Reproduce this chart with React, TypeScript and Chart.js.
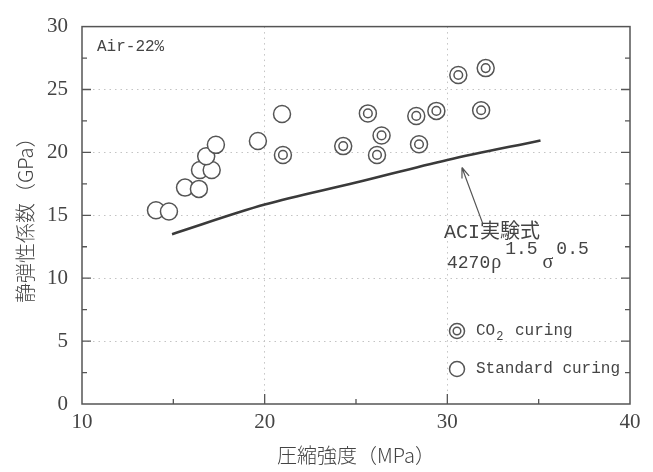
import React, { useEffect, useRef } from "react";
import { Chart, registerables } from "chart.js";
Chart.register(...registerables);

// Standard curing (open circles)
const standardX = [14.05, 14.76, 15.64, 16.4, 16.46, 17.1, 16.8, 17.33, 19.63, 20.95];
const standardY = [15.4, 15.3, 17.2, 17.1, 18.6, 18.6, 19.7, 20.6, 20.9, 23.05];
// CO2 curing (double circles)
const co2X = [21.0, 24.3, 25.65, 26.4, 26.15, 28.3, 28.45, 29.4, 30.6, 32.1, 31.85];
const co2Y = [19.8, 20.5, 23.1, 21.35, 19.8, 22.9, 20.65, 23.3, 26.15, 26.7, 23.35];
// ACI equation curve
const aciX = [14.93, 20, 25, 30, 35.1];
const aciY = [13.5, 15.85, 17.6, 19.4, 20.95];

const xMin = 10, xMax = 40, xStep = 10;
const yMin = 0, yMax = 30, yStep = 5;

const MONO = '"Liberation Mono", "Noto Sans CJK JP", monospace';
const SERIF = '"Liberation Serif", serif';
const CJK = '"Noto Sans CJK JP", sans-serif';
const INK = "#444";

const toPts = (xs: number[], ys: number[]) => xs.map((x, i) => ({ x, y: ys[i] }));

const decorPlugin = {
  id: "decor",
  afterDatasetsDraw(chart: any) {
    const { ctx, chartArea: a, scales } = chart;
    const xs = scales.x, ys = scales.y;
    ctx.save();
    // frame
    ctx.strokeStyle = "#555";
    ctx.lineWidth = 1.5;
    ctx.strokeRect(a.left, a.top, a.right - a.left, a.bottom - a.top);
    // inward ticks
    ctx.lineWidth = 1.3;
    ctx.beginPath();
    for (let v = xMin + xStep / 2; v < xMax; v += xStep / 2) {
      const px = xs.getPixelForValue(v);
      const major = Math.abs(v % xStep) < 1e-6;
      ctx.moveTo(px, a.bottom);
      ctx.lineTo(px, a.bottom - (major ? 10 : 5));
    }
    for (let v = yMin + yStep / 2; v < yMax; v += yStep / 2) {
      const py = ys.getPixelForValue(v);
      const major = Math.abs(v % yStep) < 1e-6;
      const len = major ? 9 : 5;
      ctx.moveTo(a.left, py);
      ctx.lineTo(a.left + len, py);
      ctx.moveTo(a.right, py);
      ctx.lineTo(a.right - len, py);
    }
    ctx.stroke();

    ctx.fillStyle = INK;
    ctx.textBaseline = "middle";
    ctx.textAlign = "left";
    // Air-22%
    ctx.font = `16px ${MONO}`;
    ctx.fillText("Air-22%", 97, 47);

    // arrow
    const tipX = xs.getPixelForValue(30.8), tipY = ys.getPixelForValue(18.8);
    const tailX = xs.getPixelForValue(31.95), tailY = ys.getPixelForValue(14.3);
    ctx.strokeStyle = "#555";
    ctx.lineWidth = 1.2;
    ctx.beginPath();
    ctx.moveTo(tailX, tailY);
    ctx.lineTo(tipX, tipY);
    const ang = Math.atan2(tipY - tailY, tipX - tailX);
    const hl = 11, hw = 0.35;
    ctx.moveTo(tipX, tipY);
    ctx.lineTo(tipX - hl * Math.cos(ang - hw), tipY - hl * Math.sin(ang - hw));
    ctx.moveTo(tipX, tipY);
    ctx.lineTo(tipX - hl * Math.cos(ang + hw), tipY - hl * Math.sin(ang + hw));
    ctx.stroke();

    // ACI text
    ctx.font = `20px ${MONO}`;
    ctx.fillText("ACI実験式", 444, 233);
    // formula
    let fx = 447;
    const base = 263, sup = 249;
    const put = (t: string, y: number, gap = 0) => {
      ctx.fillText(t, fx, y);
      fx += ctx.measureText(t).width + gap;
    };
    ctx.font = `18px ${MONO}`;
    put("4270", base, 1);
    ctx.font = `20px ${SERIF}`;
    put("ρ", base, 4);
    ctx.font = `18px ${MONO}`;
    put("1.5", sup, 5);
    ctx.font = `20px ${SERIF}`;
    put("σ", base, 3);
    ctx.font = `18px ${MONO}`;
    put("0.5", sup, 0);

    // legend
    const drawCircle = (cx: number, cy: number, r: number) => {
      ctx.beginPath();
      ctx.arc(cx, cy, r, 0, Math.PI * 2);
      ctx.stroke();
    };
    ctx.strokeStyle = "#555";
    ctx.lineWidth = 1.5;
    drawCircle(457, 331, 7.5);
    drawCircle(457, 331, 3.8);
    drawCircle(457, 369, 7.5);
    ctx.font = `16px ${MONO}`;
    let lx = 476;
    ctx.fillText("CO", lx, 331);
    lx += ctx.measureText("CO").width + 1;
    ctx.font = `12px ${MONO}`;
    ctx.fillText("2", lx, 337);
    lx += ctx.measureText("2").width + 2;
    ctx.font = `16px ${MONO}`;
    ctx.fillText(" curing", lx, 331);
    ctx.fillText("Standard curing", 476, 369);
    ctx.restore();
  },
};

export default function App() {
  const ref = useRef<HTMLCanvasElement>(null);
  useEffect(() => {
    document.body.style.margin = "0";
    const canvas = ref.current!;
    const gridColor = (c: any) => {
      const v = c.tick ? c.tick.value : null;
      return v !== null && c.scale && v > c.scale.min && v < c.scale.max ? "#c4c4c4" : "rgba(0,0,0,0)";
    };
    const chart = new Chart(canvas, {
      type: "scatter",
      data: {
        datasets: [
          {
            data: toPts(co2X, co2Y),
            pointRadius: 4.3,
            pointBorderWidth: 1.5,
            borderColor: "#555",
            backgroundColor: "rgba(0,0,0,0)",
          },
          {
            data: toPts(co2X, co2Y),
            pointRadius: 8.5,
            pointBorderWidth: 1.5,
            borderColor: "#555",
            backgroundColor: "#fff",
          },
          {
            data: toPts(standardX, standardY),
            pointRadius: 8.5,
            pointBorderWidth: 1.5,
            borderColor: "#555",
            backgroundColor: "#fff",
          },
          {
            type: "line",
            data: toPts(aciX, aciY),
            borderColor: "#3a3a3a",
            borderWidth: 2.6,
            pointRadius: 0,
            tension: 0.4,
            cubicInterpolationMode: "monotone",
            fill: false,
          } as any,
        ],
      },
      options: {
        responsive: false,
        animation: false,
        layout: { padding: { top: 16, right: 23, left: 0, bottom: 0 } },
        plugins: { legend: { display: false }, tooltip: { enabled: false } },
        scales: {
          x: {
            type: "linear",
            min: xMin,
            max: xMax,
            afterFit: (s: any) => { s.height = 68; },
            ticks: { stepSize: xStep, padding: 6, color: INK, font: { family: SERIF, size: 21 } },
            grid: { color: gridColor, drawTicks: false, lineWidth: 1 },
            border: { display: false, dash: [1.5, 4] },
            title: {
              display: true,
              text: "圧縮強度（MPa）",
              color: INK,
              font: { family: CJK, size: 20, weight: "300" },
              padding: { top: 0, bottom: 5 },
            },
          },
          y: {
            type: "linear",
            min: yMin,
            max: yMax,
            afterFit: (s: any) => { s.width = 82; },
            ticks: { stepSize: yStep, padding: 14, color: INK, font: { family: SERIF, size: 21 } },
            grid: { color: gridColor, drawTicks: false, lineWidth: 1 },
            border: { display: false, dash: [1.5, 4] },
            title: {
              display: true,
              text: "静弾性係数（GPa）",
              color: INK,
              font: { family: CJK, size: 20, weight: "300" },
              padding: { top: 13, bottom: 0 },
            },
          },
        },
      },
      plugins: [decorPlugin],
    } as any);
    return () => chart.destroy();
  }, []);
  return (
    <div style={{ width: 653, height: 472 }}>
      <canvas ref={ref} width={653} height={472} style={{ display: "block" }} />
    </div>
  );
}
